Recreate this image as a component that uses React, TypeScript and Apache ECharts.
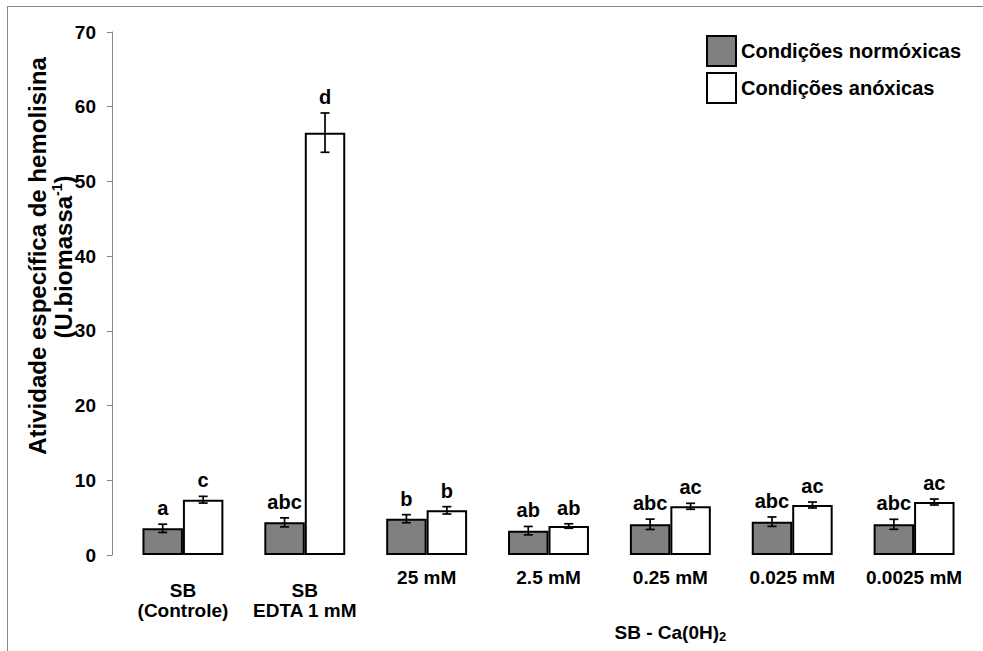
import React, { useEffect, useRef } from "react";
import * as echarts from "echarts";

const categories = ["SB\n(Controle)", "SB\nEDTA 1 mM", "25 mM", "2.5 mM", "0.25 mM", "0.025 mM", "0.0025 mM"];
const groupLabels = ["", "", "", "", "SB - Ca(0H)", "", ""];
const normoxic = [3.57, 4.37, 4.86, 3.26, 4.11, 4.46, 4.11];
const normoxicErr = [0.55, 0.6, 0.54, 0.56, 0.69, 0.63, 0.67];
const anoxic = [7.4, 56.53, 5.98, 3.88, 6.52, 6.69, 7.09];
const anoxicErr = [0.45, 2.63, 0.49, 0.3, 0.4, 0.4, 0.4];
const normoxicLetters = ["a", "abc", "b", "ab", "abc", "abc", "abc"];
const anoxicLetters = ["c", "d", "b", "ab", "ac", "ac", "ac"];
const yTicks = { min: 0, max: 70, interval: 10 };
const seriesNames = ["Condições normóxicas", "Condições anóxicas"];

const FONT = '"Liberation Sans", Arial, sans-serif';
const CAT_GAP = 0.336;

function errSeries(values: number[], errs: number[], letters: string[], side: number) {
  return {
    type: "custom",
    silent: true,
    z: 5,
    data: values.map((v, i) => [i, v, errs[i]]),
    encode: { x: 0, y: 1 },
    renderItem: (params: any, api: any) => {
      const i = api.value(0);
      const v = api.value(1);
      const e = api.value(2);
      const band = api.size([1, 0])[0];
      const barW = (band * (1 - CAT_GAP)) / 2;
      const top = api.coord([i, v + e]);
      const bot = api.coord([i, v - e]);
      const x = top[0] + (side * barW) / 2;
      const cap = 4.5;
      const st = { stroke: "#000", lineWidth: 1.7 };
      return {
        type: "group",
        children: [
          { type: "line", shape: { x1: x, y1: top[1], x2: x, y2: bot[1] }, style: st },
          { type: "line", shape: { x1: x - cap, y1: top[1], x2: x + cap, y2: top[1] }, style: st },
          { type: "line", shape: { x1: x - cap, y1: bot[1], x2: x + cap, y2: bot[1] }, style: st },
          {
            type: "text",
            x: x,
            y: top[1] - 6,
            style: {
              text: letters[params.dataIndex],
              textAlign: "center",
              textVerticalAlign: "bottom",
              align: "center",
              verticalAlign: "bottom",
              fill: "#000",
              font: `bold 20px ${FONT}`,
            },
          },
        ],
      };
    },
  };
}

export default function App() {
  const ref = useRef<HTMLDivElement>(null);
  useEffect(() => {
    if (!ref.current) return;
    const chart = echarts.init(ref.current, null, { renderer: "svg" });
    chart.setOption({
      animation: false,
      backgroundColor: "#fff",
      textStyle: { fontFamily: FONT },
      grid: { left: 122, right: 8, top: 32, bottom: 96 },
      legend: {
        orient: "vertical",
        left: 706,
        top: 35,
        padding: 0,
        itemGap: 5,
        itemWidth: 29,
        itemHeight: 30,
        icon: "rect",
        data: seriesNames,
        textStyle: { fontSize: 20, fontWeight: "bold", color: "#000", fontFamily: FONT },
      },
      xAxis: [
        {
          type: "category",
          data: categories,
          axisLine: { show: false },
          axisTick: { show: false },
          axisLabel: {
            interval: 0,
            margin: 12,
            formatter: (v: string) => {
              const parts = v.split("\n");
              if (parts.length > 1) {
                return `{g|\u00a0}\n` + parts.map((p) => `{t|${p}}`).join("\n");
              }
              return `{t|${v}}`;
            },
            rich: {
              g: { fontSize: 4, lineHeight: 13 },
              t: { fontSize: 19, fontWeight: "bold", color: "#000", lineHeight: 20, fontFamily: FONT },
            },
          },
        },
        {
          type: "category",
          data: groupLabels,
          position: "bottom",
          axisLine: { show: false },
          axisTick: { show: false },
          axisLabel: {
            interval: 0,
            margin: 66,
            formatter: (v: string) => (v ? `{a|${v}}{s|2}` : ""),
            rich: {
              a: { fontSize: 19, fontWeight: "bold", color: "#000", lineHeight: 22, fontFamily: FONT },
              s: { fontSize: 13, fontWeight: "bold", color: "#000", lineHeight: 22, verticalAlign: "bottom", padding: [8, 0, 0, 0], fontFamily: FONT },
            },
          },
        },
      ],
      yAxis: {
        type: "value",
        min: yTicks.min,
        max: yTicks.max,
        interval: yTicks.interval,
        offset: 10,
        splitLine: { show: false },
        axisLine: { show: true, lineStyle: { color: "#868686", width: 1 } },
        axisTick: { show: true, length: 5, lineStyle: { color: "#868686" } },
        axisLabel: { fontSize: 19, fontWeight: "bold", color: "#000", margin: 16, fontFamily: FONT },
      },
      series: [
        {
          name: seriesNames[0],
          type: "bar",
          data: normoxic,
          barGap: "0%",
          barCategoryGap: `${CAT_GAP * 100}%`,
          itemStyle: { color: "#808080", borderColor: "#000", borderWidth: 2 },
        },
        {
          name: seriesNames[1],
          type: "bar",
          data: anoxic,
          barGap: "0%",
          barCategoryGap: `${CAT_GAP * 100}%`,
          itemStyle: { color: "#ffffff", borderColor: "#000", borderWidth: 2 },
        },
        errSeries(normoxic, normoxicErr, normoxicLetters, -1),
        errSeries(anoxic, anoxicErr, anoxicLetters, 1),
      ],
      graphic: [
        { type: "line", shape: { x1: 7, y1: 6.5, x2: 983, y2: 6.5 }, style: { stroke: "#868686", lineWidth: 1 } },
        { type: "line", shape: { x1: 7.5, y1: 6, x2: 7.5, y2: 651 }, style: { stroke: "#868686", lineWidth: 1 } },
        {
          type: "text",
          x: 37,
          y: 256,
          rotation: Math.PI / 2,
          style: {
            text: "Atividade específica de hemolisina",
            font: `bold 24px ${FONT}`,
            fill: "#000",
            textAlign: "center",
            textVerticalAlign: "middle",
            align: "center",
            verticalAlign: "middle",
          },
        },
        {
          type: "text",
          x: 63,
          y: 257,
          rotation: Math.PI / 2,
          style: {
            text: "{a|(U.biomassa}{s|-1}{a|)}",
            textAlign: "center",
            textVerticalAlign: "middle",
            align: "center",
            verticalAlign: "middle",
            rich: {
              a: { fontSize: 24, fontWeight: "bold", fill: "#000", lineHeight: 26, fontFamily: FONT },
              s: { fontSize: 14, fontWeight: "bold", fill: "#000", lineHeight: 26, verticalAlign: "top", fontFamily: FONT },
            },
          },
        },
      ],
    });
    return () => chart.dispose();
  }, []);
  return (
    <div
      ref={ref}
      style={{ position: "absolute", left: 0, top: 0, width: 983, height: 651, background: "#fff" }}
    />
  );
}
